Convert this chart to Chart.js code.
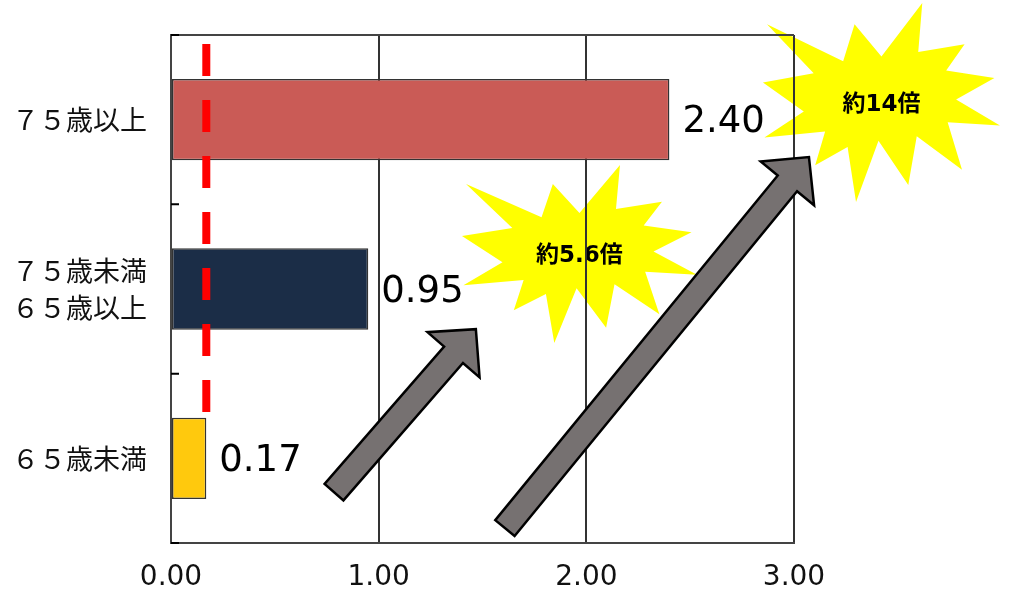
<!DOCTYPE html>
<html lang="ja">
<head>
<meta charset="utf-8">
<title>年齢別</title>
<script src="https://cdn.jsdelivr.net/npm/chart.js@4/dist/chart.umd.min.js"></script>
<style>
	html, body { margin: 0; padding: 0; background: #fff; }
	#chartcontent { width: 1009px; height: 591px; }
</style>
</head>
<body>
<div id="chartcontent"><canvas id="chart"></canvas></div>
<script>
// data
const categories = [['７５歳以上'], ['７５歳未満', '６５歳以上'], ['６５歳未満']];
const values = [2.40, 0.95, 0.17];
const barColors = ['#CA5B56', '#1B2D47', '#FFC90D'];
const xTicks = [0, 1, 2, 3];
const refValue = 0.17;          // dashed line = 65歳未満
const refFrom = -0.447, refTo = 1.727; // category index units

// annotations (value units on x, category index on y)
const arrowTails = [[0.785, 2.20], [1.608, 2.412]];
const arrowTips = [[1.468, 1.237], [3.072, 0.221]];
const burstCenters = [[1.967, 0.794], [3.421, -0.101]];
const burstLabels = ['約5.6倍', '約14倍'];
const burstSizes = [[235, 178], [237, 199]];

// explosion outline (21600 grid)
const sealPts = [[10800,5800],[14522,0],[14155,5325],[18380,4457],[16702,7315],[21097,8137],[17607,10475],[21600,13290],[16837,12942],[18145,18095],[14020,14457],[13247,19737],[10532,14935],[8485,21600],[7715,15627],[4762,17617],[5667,13937],[135,14587],[3722,11775],[0,8615],[4627,7617],[370,2295],[7312,6320],[8352,2295]];

const drawBurst = (ctx, cx, cy, w, h, label) => {
	ctx.save();
	ctx.beginPath();
	sealPts.forEach((p, i) => {
		const x = cx - w / 2 + p[0] / 21600 * w;
		const y = cy - h / 2 + p[1] / 21600 * h;
		if (i == 0) ctx.moveTo(x, y); else ctx.lineTo(x, y);
	});
	ctx.closePath();
	ctx.fillStyle = '#FFFF00';
	ctx.fill();
	ctx.fillStyle = '#000';
	ctx.font = '600 23px "DejaVu Sans", "Noto Sans CJK JP", sans-serif';
	ctx.textAlign = 'center';
	ctx.textBaseline = 'middle';
	ctx.fillText(label, cx, cy + 2);
	ctx.restore();
}

const drawArrow = (ctx, x0, y0, x1, y1) => {
	const len = Math.hypot(x1 - x0, y1 - y0);
	const ux = (x1 - x0) / len, uy = (y1 - y0) / len;
	const nx = -uy, ny = ux;
	const sw = 12.5, hw = 34.5, hl = 34;
	const bx = x1 - ux * hl, by = y1 - uy * hl;
	ctx.save();
	ctx.beginPath();
	ctx.moveTo(x0 + nx * sw, y0 + ny * sw);
	ctx.lineTo(bx + nx * sw, by + ny * sw);
	ctx.lineTo(bx + nx * hw, by + ny * hw);
	ctx.lineTo(x1, y1);
	ctx.lineTo(bx - nx * hw, by - ny * hw);
	ctx.lineTo(bx - nx * sw, by - ny * sw);
	ctx.lineTo(x0 - nx * sw, y0 - ny * sw);
	ctx.closePath();
	ctx.fillStyle = '#767171';
	ctx.fill();
	ctx.lineWidth = 2.5;
	ctx.strokeStyle = '#000';
	ctx.lineJoin = 'miter';
	ctx.stroke();
	ctx.restore();
}

const extras = {
	id: 'extras',
	beforeDraw(chart) {
		const ctx = chart.ctx, xs = chart.scales.x, ys = chart.scales.y;
		for (let i = 0; i < burstCenters.length; i++) {
			drawBurst(ctx, xs.getPixelForValue(burstCenters[i][0]), ys.getPixelForValue(burstCenters[i][1]), burstSizes[i][0], burstSizes[i][1], burstLabels[i]);
		}
	},
	afterDatasetsDraw(chart) {
		const ctx = chart.ctx, xs = chart.scales.x, ys = chart.scales.y, a = chart.chartArea;
		ctx.save();
		// top frame + inner ticks
		ctx.strokeStyle = '#444';
		ctx.lineWidth = 2;
		ctx.beginPath();
		ctx.moveTo(a.left, a.top);
		ctx.lineTo(a.right, a.top);
		ctx.stroke();
		ctx.strokeStyle = '#000';
		ctx.beginPath();
		for (let i = 0; i <= categories.length; i++) {
			const y = ys.getPixelForValue(i - 0.5);
			ctx.moveTo(a.left, y);
			ctx.lineTo(a.left + 8, y);
		}
		ctx.stroke();
		// dashed reference
		ctx.strokeStyle = '#FF0000';
		ctx.lineWidth = 8;
		ctx.setLineDash([32, 24]);
		ctx.beginPath();
		ctx.moveTo(xs.getPixelForValue(refValue), ys.getPixelForValue(refFrom));
		ctx.lineTo(xs.getPixelForValue(refValue), ys.getPixelForValue(refTo));
		ctx.stroke();
		ctx.setLineDash([]);
		// value labels
		ctx.fillStyle = '#000';
		ctx.font = '37px "DejaVu Sans", sans-serif';
		ctx.textAlign = 'left';
		ctx.textBaseline = 'middle';
		values.forEach((v, i) => {
			ctx.fillText(v.toFixed(2), xs.getPixelForValue(v) + 13, ys.getPixelForValue(i) + 3);
		});
		ctx.restore();
		for (let i = 0; i < arrowTails.length; i++) {
			drawArrow(ctx, xs.getPixelForValue(arrowTails[i][0]), ys.getPixelForValue(arrowTails[i][1]),
				xs.getPixelForValue(arrowTips[i][0]), ys.getPixelForValue(arrowTips[i][1]));
		}
	}
};

const ctx = document.getElementById('chart').getContext('2d');
const myChart = new Chart(ctx, {
	type: 'bar',
	data: {
		labels: categories,
		datasets: [{
			data: values,
			backgroundColor: barColors,
			borderColor: '#333',
			borderWidth: 1.5,
			borderSkipped: false,
			categoryPercentage: 1,
			barPercentage: 0.48
		}]
	},
	options: {
		indexAxis: 'y',
		responsive: true,
		maintainAspectRatio: false,
		animation: false,
		layout: { padding: { top: 35, right: 215, left: 0, bottom: 0 } },
		plugins: { legend: { display: false }, tooltip: { enabled: false } },
		scales: {
			x: {
				min: xTicks[0],
				max: xTicks[xTicks.length - 1],
				afterBuildTicks: (s) => { s.ticks = xTicks.map(v => ({ value: v })); },
				afterFit: (s) => { s.height = 48; s.paddingLeft = 0; s.paddingRight = 0; },
				ticks: {
					callback: (v) => Number(v).toFixed(2),
					font: { family: '"DejaVu Sans", sans-serif', size: 28 },
					color: '#111',
					padding: 18,
					maxRotation: 0
				},
				grid: { color: '#333', lineWidth: 2, drawTicks: false },
				border: { color: '#444', width: 2 }
			},
			y: {
				offset: true,
				afterFit: (s) => { s.width = 171; s.paddingTop = 0; s.paddingBottom = 0; },
				ticks: {
					font: { family: '"Noto Sans CJK JP", sans-serif', size: 27, lineHeight: 1.38 },
					color: '#111',
					padding: 24
				},
				grid: { display: false, drawTicks: false },
				border: { color: '#444', width: 2 }
			}
		}
	},
	plugins: [extras]
});
</script>
</body>
</html>
